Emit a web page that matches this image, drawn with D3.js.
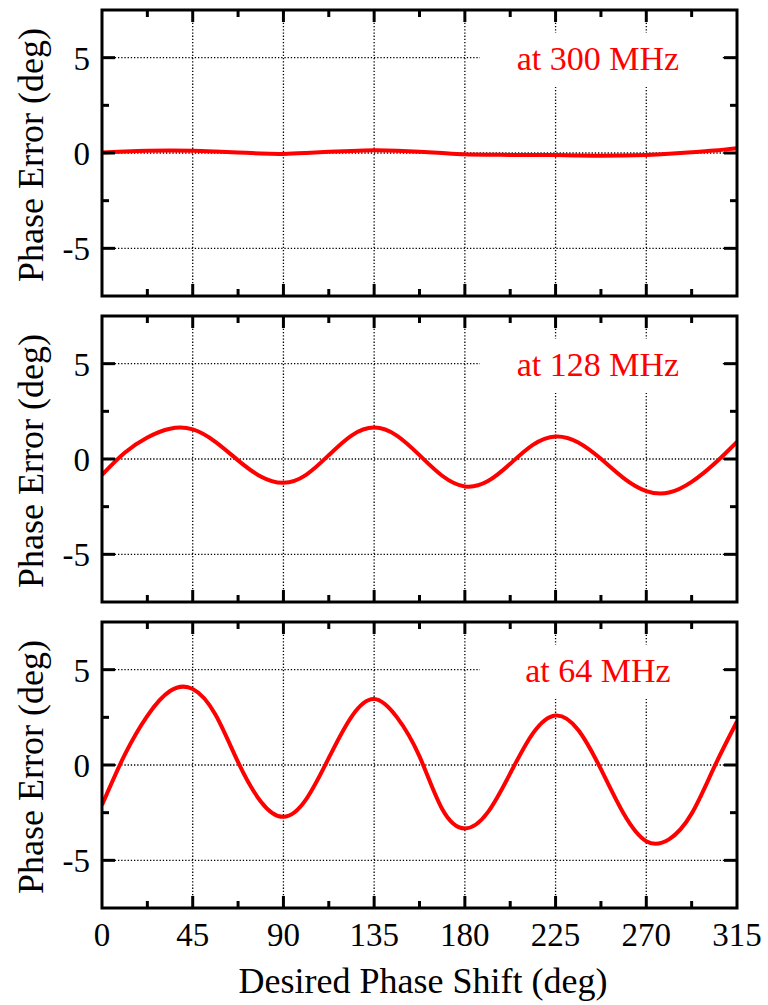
<!DOCTYPE html>
<html>
<head>
<meta charset="utf-8">
<script src="https://cdn.jsdelivr.net/npm/d3@7"></script>
<style>
  html, body { margin: 0; padding: 0; background: #fff; }
  svg { display: block; }
  text { font-family: "Liberation Serif", "Times New Roman", "DejaVu Serif", serif; }
</style>
</head>
<body>
<svg id="chart" width="768" height="1005"></svg>
<script>
// ---- data ----
const phaseShift = [0, 11.25, 22.5, 33.75, 45, 56.25, 67.5, 78.75, 90, 101.25, 112.5, 123.75,
  135, 146.25, 157.5, 168.75, 180, 191.25, 202.5, 213.75, 225, 236.25, 247.5, 258.75,
  270, 281.25, 292.5, 303.75, 315];

const err300 = [0.03, 0.08, 0.12, 0.13, 0.12, 0.08, 0.03, -0.03, -0.05, 0.0, 0.06, 0.11,
  0.14, 0.12, 0.07, 0.0, -0.07, -0.09, -0.1, -0.11, -0.11, -0.13, -0.14, -0.13,
  -0.1, -0.04, 0.04, 0.13, 0.25];

const err128 = [-0.83, 0.33, 1.13, 1.59, 1.55, 0.9, -0.07, -0.92, -1.25, -0.83, 0.2, 1.23,
  1.65, 1.23, 0.2, -0.88, -1.44, -1.17, -0.25, 0.74, 1.18, 0.87, 0.01, -1.0,
  -1.68, -1.76, -1.2, -0.25, 0.9];

const err64 = [-2.1, 0.53, 2.58, 3.88, 3.99, 2.65, 0.15, -1.91, -2.72, -1.8, 0.37, 2.53,
  3.46, 2.51, 0.45, -2.31, -3.33, -2.5, -0.44, 1.66, 2.6, 1.84, -0.22, -2.55,
  -4.0, -3.9, -2.55, -0.1, 2.28];

const panelLabels = ["at 300 MHz", "at 128 MHz", "at 64 MHz"];
const xTickValues = [0, 45, 90, 135, 180, 225, 270, 315];
const xMinorTicks = [22.5, 67.5, 112.5, 157.5, 202.5, 247.5, 292.5];
const yTickValues = [-5, 0, 5];
const yMinorTicks = [-2.5, 2.5];
const xDomain = [0, 315];
const yDomain = [-7.5, 7.5];
const xTitle = "Desired Phase Shift (deg)";
const yTitle = "Phase Error (deg)";

// ---- layout ----
const svg = d3.select("#chart");
const left = 102, right = 737;
const panelH = 286;
const panelTops = [10, 316, 622];
const series = [err300, err128, err64];
const red = "#ff0000";
const fontSize = 33;

const x = d3.scaleLinear().domain(xDomain).range([left, right]);

series.forEach((vals, i) => {
  const top = panelTops[i];
  const bottom = top + panelH;
  const y = d3.scaleLinear().domain(yDomain).range([bottom, top]);
  const g = svg.append("g");

  const clipId = "clip" + i;
  svg.append("clipPath").attr("id", clipId)
    .append("rect").attr("x", left).attr("y", top).attr("width", right - left).attr("height", panelH);

  // grid
  const grid = g.append("g")
    .attr("stroke", "#000").attr("stroke-width", 1.3).attr("stroke-dasharray", "1.3,1.9");
  grid.selectAll("line.vx").data(xTickValues.filter(v => v > xDomain[0] && v < xDomain[1]))
    .join("line").attr("x1", d => x(d)).attr("x2", d => x(d)).attr("y1", top).attr("y2", bottom);
  grid.selectAll("line.hy").data(yTickValues)
    .join("line").attr("class", "hy").attr("x1", left).attr("x2", right).attr("y1", d => y(d)).attr("y2", d => y(d));

  // key box (opaque)
  g.append("rect")
    .attr("x", left + 378).attr("y", top + 23)
    .attr("width", 242).attr("height", 54)
    .attr("fill", "#fff");

  // curve
  const line = d3.line()
    .x((d, k) => x(phaseShift[k]))
    .y(d => y(d))
    .curve(d3.curveNatural);
  g.append("path")
    .datum(vals)
    .attr("d", line)
    .attr("fill", "none")
    .attr("stroke", red)
    .attr("stroke-width", 4)
    .attr("stroke-linejoin", "round")
    .attr("clip-path", `url(#${clipId})`);

  // label
  g.append("text")
    .attr("x", left + 496).attr("y", top + 60)
    .attr("text-anchor", "middle")
    .attr("fill", red)
    .attr("font-size", 34)
    .text(panelLabels[i]);

  // ticks (inward on all four sides)
  const tk = g.append("g").attr("stroke", "#000").attr("stroke-width", 3);
  const addXTicks = (vals, len) => {
    tk.selectAll(null).data(vals).join("line")
      .attr("x1", d => x(d)).attr("x2", d => x(d)).attr("y1", bottom).attr("y2", bottom - len);
    tk.selectAll(null).data(vals).join("line")
      .attr("x1", d => x(d)).attr("x2", d => x(d)).attr("y1", top).attr("y2", top + len);
  };
  const addYTicks = (vals, len) => {
    tk.selectAll(null).data(vals).join("line")
      .attr("x1", left).attr("x2", left + len).attr("y1", d => y(d)).attr("y2", d => y(d));
    tk.selectAll(null).data(vals).join("line")
      .attr("x1", right).attr("x2", right - len).attr("y1", d => y(d)).attr("y2", d => y(d));
  };
  addXTicks(xTickValues.filter(v => v > xDomain[0] && v < xDomain[1]), 12);
  addXTicks(xMinorTicks, 7);
  addYTicks(yTickValues, 13);
  addYTicks(yMinorTicks, 7);

  // frame
  g.append("rect")
    .attr("x", left).attr("y", top).attr("width", right - left).attr("height", panelH)
    .attr("fill", "none").attr("stroke", "#000").attr("stroke-width", 3);

  // y tick labels
  g.selectAll("text.yl").data(yTickValues).join("text")
    .attr("class", "yl")
    .attr("x", left - 12).attr("y", d => y(d) + 12)
    .attr("text-anchor", "end")
    .attr("font-size", fontSize)
    .text(d => d < 0 ? "-" + Math.abs(d) : String(d));

  // y title
  g.append("text")
    .attr("transform", `translate(43,${(top + bottom) / 2 + 2}) rotate(-90)`)
    .attr("text-anchor", "middle")
    .attr("font-size", 36)
    .text(yTitle);

  // x tick labels on bottom panel only
  if (i === series.length - 1) {
    g.selectAll("text.xl").data(xTickValues).join("text")
      .attr("class", "xl")
      .attr("x", d => x(d)).attr("y", bottom + 38)
      .attr("text-anchor", "middle")
      .attr("font-size", fontSize)
      .text(d => String(d));
    g.append("text")
      .attr("x", 423).attr("y", 993)
      .attr("text-anchor", "middle")
      .attr("font-size", 36)
      .text(xTitle);
  }
});
</script>
</body>
</html>
